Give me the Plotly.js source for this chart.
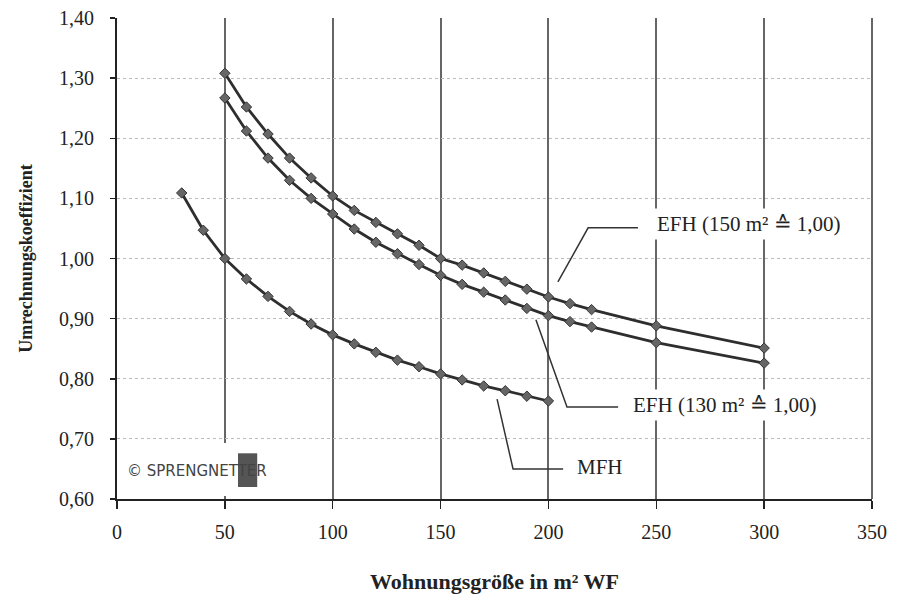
<!DOCTYPE html>
<html>
<head>
<meta charset="utf-8">
<script src="https://cdn.plot.ly/plotly-3.0.1.min.js"></script>
<style>html,body{margin:0;padding:0;background:#fff;}#chart{width:898px;height:599px;}</style>
</head>
<body>
<div id="chart"></div>
<script>
// Data
const efh150X = [50,60,70,80,90,100,110,120,130,140,150,160,170,180,190,200,210,220,250,300];
const efh150Y = [1.308,1.252,1.207,1.167,1.134,1.104,1.080,1.060,1.041,1.022,1.000,0.989,0.976,0.962,0.949,0.936,0.925,0.915,0.888,0.851];

const efh130X = [50,60,70,80,90,100,110,120,130,140,150,160,170,180,190,200,210,220,250,300];
const efh130Y = [1.267,1.212,1.167,1.130,1.100,1.074,1.049,1.027,1.008,0.990,0.972,0.957,0.944,0.931,0.917,0.905,0.895,0.886,0.860,0.826];

const mfhX = [30,40,50,60,70,80,90,100,110,120,130,140,150,160,170,180,190,200];
const mfhY = [1.109,1.047,1.000,0.966,0.937,0.912,0.891,0.873,0.858,0.844,0.831,0.820,0.808,0.798,0.788,0.780,0.771,0.763];

const xTicks = [0,50,100,150,200,250,300,350];
const yTicks = [0.60,0.70,0.80,0.90,1.00,1.10,1.20,1.30,1.40];
const yTickText = ["0,60","0,70","0,80","0,90","1,00","1,10","1,20","1,30","1,40"];

const labelEFH150 = "EFH (150 m² ≙ 1,00)";
const labelEFH130 = "EFH (130 m² ≙ 1,00)";
const labelMFH = "MFH";
const logoText = "© SPRENGNETTER";

const lineStyle = {color:'#2e2e2e', width:2.8};
const markerStyle = {symbol:'diamond', size:8, color:'#666', line:{color:'#333', width:1}};

function series(x, y, name){
  return {x:x, y:y, name:name, type:'scatter', mode:'lines+markers',
          line:lineStyle, marker:markerStyle, hoverinfo:'x+y'};
}

const data = [
  series(efh150X, efh150Y, labelEFH150),
  series(efh130X, efh130Y, labelEFH130),
  series(mfhX, mfhY, labelMFH)
];

const serif = 'Liberation Serif, Times New Roman, serif';
const leader = {type:'path', xref:'x', yref:'y', line:{color:'#333', width:1.5}, layer:'above'};

const layout = {
  width:898, height:599,
  margin:{l:117, r:26, t:18, b:100},
  paper_bgcolor:'#fff', plot_bgcolor:'#fff',
  showlegend:false,
  font:{family:serif, color:'#222', size:20},
  xaxis:{
    range:[0,350], tickvals:xTicks, ticktext:xTicks.map(String),
    showgrid:true, gridcolor:'#666', gridwidth:2,
    showline:true, linecolor:'#222', linewidth:2,
    ticks:'outside', ticklen:8, tickcolor:'#222', tickwidth:1.5,
    zeroline:false, ticklabelstandoff:6,
    tickfont:{family:serif, size:20, color:'#222'},
    title:{text:'<b>Wohnungsgröße in m² WF</b>', font:{family:serif, size:22, color:'#222'}, standoff:32}
  },
  yaxis:{
    range:[0.60,1.40], tickvals:yTicks, ticktext:yTickText,
    showgrid:true, gridcolor:'#bbb', gridwidth:1, griddash:'dot',
    showline:true, linecolor:'#222', linewidth:2,
    ticks:'outside', ticklen:5, tickcolor:'#222', tickwidth:1.5,
    zeroline:false, ticklabelstandoff:12,
    tickfont:{family:serif, size:20, color:'#222'},
    title:{text:'<b>Umrechnungskoeffizient</b>', font:{family:serif, size:18, color:'#222'}, standoff:22}
  },
  shapes:[
    {type:'line', xref:'paper', yref:'paper', x0:1, x1:1, y0:0, y1:1, line:{color:'#666', width:2}, layer:'between'},
    {type:'rect', xref:'x', yref:'y', x0:1.5, x1:76.5, y0:0.605, y1:0.693, fillcolor:'#fff', line:{width:0}, layer:'between'},
    {type:'rect', xref:'x', yref:'y', x0:56.1, x1:65.0, y0:0.620, y1:0.676, fillcolor:'#555', line:{width:0}, layer:'between'},
    Object.assign({}, leader, {path:'M 204.4 0.961 L 218.4 1.051 L 241.5 1.051'}),
    Object.assign({}, leader, {path:'M 194.2 0.898 L 208.6 0.753 L 232.3 0.753'}),
    Object.assign({}, leader, {path:'M 176.2 0.766 L 183.6 0.650 L 206.8 0.650'})
  ],
  annotations:[
    {x:248.5, y:1.057, xref:'x', yref:'y', text:labelEFH150, showarrow:false, xanchor:'left', yanchor:'middle',
     bgcolor:'#fff', borderpad:3, font:{family:serif, size:21, color:'#222'}},
    {x:237.5, y:0.756, xref:'x', yref:'y', text:labelEFH130, showarrow:false, xanchor:'left', yanchor:'middle',
     bgcolor:'#fff', borderpad:3, font:{family:serif, size:21, color:'#222'}},
    {x:211.5, y:0.653, xref:'x', yref:'y', text:labelMFH, showarrow:false, xanchor:'left', yanchor:'middle',
     bgcolor:'#fff', borderpad:3, font:{family:serif, size:21, color:'#222'}},
    {x:3.5, y:0.647, xref:'x', yref:'y', text:logoText, showarrow:false, xanchor:'left', yanchor:'middle',
     font:{family:'DejaVu Sans, sans-serif', size:15, color:'#444'}}
  ]
};

Plotly.newPlot('chart', data, layout, {displayModeBar:false, staticPlot:true});
</script>
</body>
</html>
